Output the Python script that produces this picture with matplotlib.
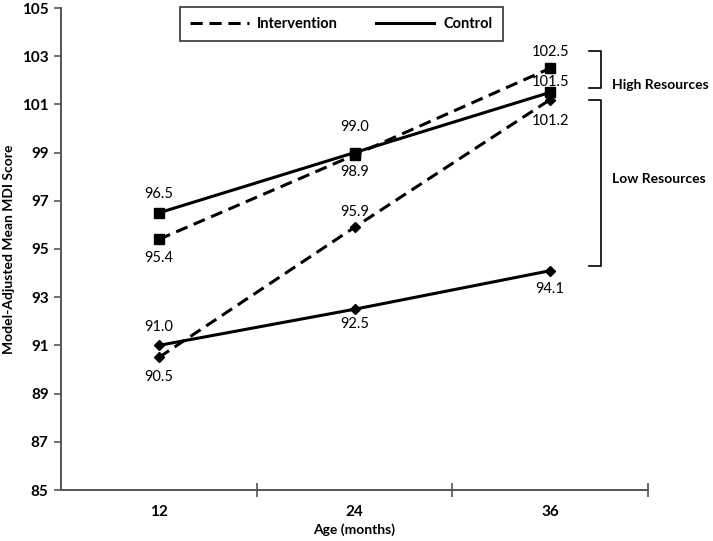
import matplotlib
matplotlib.use("Agg")
import matplotlib.pyplot as plt
from matplotlib.lines import Line2D

plt.rcParams['font.family'] = ['Lato', 'DejaVu Sans']

ages = ["12", "24", "36"]
high_intervention = [95.4, 98.9, 102.5]
high_control = [96.5, 99.0, 101.5]
low_intervention = [90.5, 95.9, 101.2]
low_control = [91.0, 92.5, 94.1]
y_ticks = [85, 87, 89, 91, 93, 95, 97, 99, 101, 103, 105]

# vertical label offsets in pixels (+ above, - below)
high_int_off = [-19, -17, 16]
high_ctrl_off = [19, 26, 10]
low_int_off = [-20, 15, -21]
low_ctrl_off = [18, -15, -18]

fig = plt.figure(figsize=(7.13, 5.41), dpi=100)
ax = fig.add_axes([61 / 713, 1 - 490 / 541, (648 - 61) / 713, (490 - 8) / 541])

x = list(range(1, len(ages) + 1))
lw = 2.2
dash = (0, (4, 2.2))
series = [
    (high_intervention, dash, "s", 7, high_int_off),
    (high_control, "-", "s", 7, high_ctrl_off),
    (low_intervention, dash, "D", 5, low_int_off),
    (low_control, "-", "D", 5, low_ctrl_off),
]
for vals, ls, mk, ms, offs in series:
    ax.plot(x, vals, color="black", linestyle=ls, linewidth=lw,
            marker=mk, markersize=ms, zorder=3)
    for xi, v, off in zip(x, vals, offs):
        ax.annotate(f"{v:.1f}", (xi, v), xytext=(0, off), textcoords="offset pixels",
                    ha="center", va="center", fontsize=10.5)

ax.set_xlim(0.5, 3.5)
ax.set_ylim(85, 105)
ax.set_yticks(y_ticks)
ax.set_yticklabels([str(t) for t in y_ticks], fontsize=11, fontweight="bold")
ax.set_xticks([1.5, 2.5, 3.5], minor=False)
ax.set_xticklabels([])
ax.set_xticks(x, minor=True)
ax.set_xticklabels(ages, minor=True, fontsize=11, fontweight="bold")
ax.tick_params(axis="x", which="major", direction="inout", length=10, width=1.2, color="#555555")
ax.tick_params(axis="x", which="minor", length=0, pad=11)
ax.tick_params(axis="y", direction="out", length=5, width=1.2, color="#555555", pad=4)

for s in ["top", "right"]:
    ax.spines[s].set_visible(False)
for s in ["left", "bottom"]:
    ax.spines[s].set_color("#555555")
    ax.spines[s].set_linewidth(1.4)

ax.set_ylabel("Model-Adjusted Mean MDI Score", fontsize=10, fontweight="bold", labelpad=5)
ax.set_xlabel("Age (months)", fontsize=10, fontweight="bold", labelpad=3)

handles = [Line2D([], [], color="black", linestyle=dash, linewidth=lw),
           Line2D([], [], color="black", linestyle="-", linewidth=lw)]
leg = ax.legend(handles, ["Intervention", "Control"], ncol=2, loc="upper left",
                bbox_to_anchor=((180 - 61) / 587, 1.0 + 1 / 482), borderaxespad=0,
                frameon=True, fancybox=False,
                prop={"weight": "bold", "size": 10.5}, handlelength=4.0,
                handletextpad=0.6, columnspacing=2.6,
                borderpad=0.7, edgecolor="black")
leg.get_frame().set_linewidth(1.2)

# brackets drawn in axes data coordinates
def bracket(ylo, yhi, label, ylab):
    xa, xb = 3.2, 3.26
    ax.plot([xa, xb, xb, xa], [yhi, yhi, ylo, ylo], color="black", linewidth=1.2,
            clip_on=False)
    ax.text(3.315, ylab, label, fontsize=10, fontweight="bold", va="center", ha="left",
            clip_on=False)

bracket(101.7, 103.2, "High Resources", 101.8)
bracket(94.3, 101.2, "Low Resources", 97.9)

fig.savefig("out.png", dpi=100)
